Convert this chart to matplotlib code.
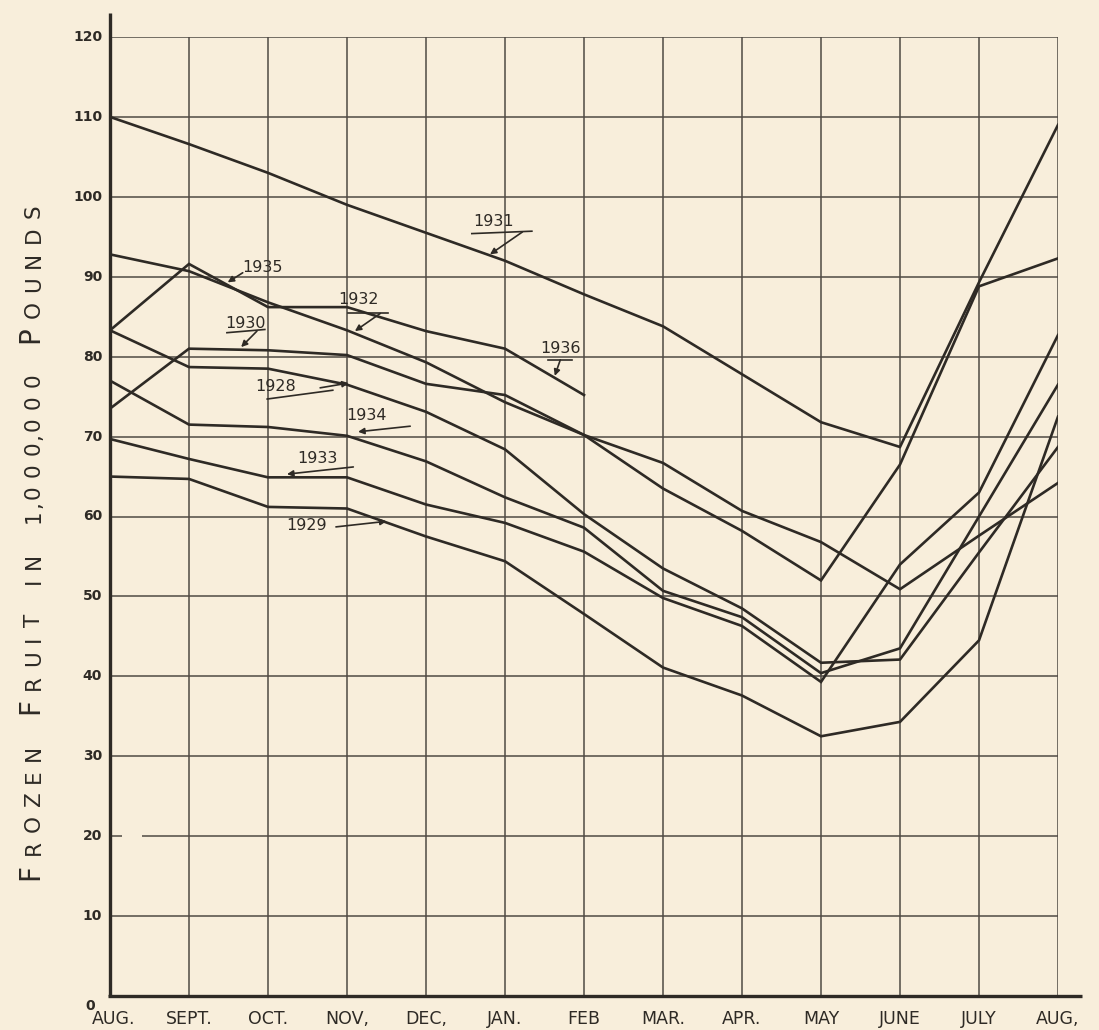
import matplotlib
matplotlib.use("Agg")
import matplotlib.pyplot as plt

PAPER = "#F8EEDB"
INK = "#2E2A25"
GRID_INK = "#4F4A43"

# month labels along the bottom, Aug to Aug
months = ["AUG.", "SEPT.", "OCT.", "NOV,", "DEC,", "JAN.", "FEB",
          "MAR.", "APR.", "MAY", "JUNE", "JULY", "AUG,"]
y_ticks = [0, 10, 20, 30, 40, 50, 60, 70, 80, 90, 100, 110, 120]

# frozen fruit holdings, millions of pounds
y1928 = [83.3, 78.7, 78.5, 76.5, 73.1, 68.4, 60.3, 53.5, 48.5, 41.7, 42.1, 55.5, 68.7]
y1929 = [65.0, 64.7, 61.2, 61.0, 57.5, 54.4, 47.8, 41.1, 37.6, 32.5, 34.3, 44.5, 72.5]
y1930 = [73.5, 81.0, 80.8, 80.2, 76.6, 75.2, 70.2, 63.5, 58.2, 52.0, 66.5, 88.8, 92.3]
y1931 = [110.0, 106.6, 103.0, 99.0, 95.5, 92.0, 87.8, 83.8, 77.8, 71.8, 68.7, 89.3, 109.0]
y1932 = [92.8, 90.7, 86.8, 83.3, 79.3, 74.3, 70.2, 66.7, 60.7, 56.8, 50.9, 57.6, 64.2]
y1933 = [69.7, 67.2, 64.9, 64.9, 61.5, 59.2, 55.6, 49.8, 46.3, 39.3, 54.0, 63.0, 82.7]
y1934 = [77.0, 71.5, 71.2, 70.1, 66.9, 62.4, 58.6, 50.7, 47.4, 40.4, 43.5, 60.0, 76.5]
y1936 = [83.3, 91.6, 86.2, 86.2, 83.2, 81.0, 75.2]

series = [y1928, y1929, y1930, y1931, y1932, y1933, y1934, y1936]

# year tags: text, text position, arrow tail, arrow tip, optional underline
tags = [
    ("1931", (4.86, 96.9), (5.22, 95.6), (4.81, 92.8), ((4.58, 95.4), (5.34, 95.7))),
    ("1935", (1.93, 91.1), (1.68, 90.5), (1.49, 89.3), None),
    ("1930", (1.71, 84.2), (1.86, 83.2), (1.66, 81.2), ((1.48, 83.0), (1.96, 83.4))),
    ("1928", (2.10, 76.3), (2.66, 76.1), (3.02, 76.7), ((1.99, 74.7), (2.82, 75.8))),
    ("1932", (3.15, 87.1), (3.42, 85.4), (3.10, 83.2), ((3.01, 85.5), (3.52, 85.5))),
    ("1934", (3.25, 72.6), (3.80, 71.3), (3.14, 70.6), None),
    ("1933", (2.63, 67.3), (3.08, 66.2), (2.24, 65.3), None),
    ("1929", (2.49, 58.9), (2.86, 58.7), (3.50, 59.4), None),
    ("1936", (5.70, 81.0), (5.70, 79.6), (5.63, 77.6), ((5.54, 79.6), (5.85, 79.6))),
]

W, H = 1099, 1030
fig = plt.figure(figsize=(W / 100, H / 100), dpi=100, facecolor=PAPER)
ax = fig.add_axes([110 / W, 34 / H, 948 / W, 959 / H], facecolor=PAPER)
ax.set_xlim(0, 12)
ax.set_ylim(0, 120)
ax.axis("off")

x = list(range(len(months)))

# grid
for v in y_ticks[1:]:
    if v == 20:
        # the scanned chart has a small gap in this rule
        ax.hlines(v, 0, 0.15, color=GRID_INK, lw=1.1)
        ax.hlines(v, 0.40, 12, color=GRID_INK, lw=1.1)
    else:
        ax.hlines(v, 0, 12, color=GRID_INK, lw=1.1)
for xi in x[1:]:
    ax.vlines(xi, 0, 120, color=GRID_INK, lw=1.1)

# heavy frame on left and bottom
ax.plot([0, 0], [0, 123.0], color=INK, lw=2.4, clip_on=False, solid_capstyle="butt")
ax.plot([-0.03, 12.3], [0, 0], color=INK, lw=2.4, clip_on=False, solid_capstyle="butt")

for ys in series:
    ax.plot(x[:len(ys)], ys, color=INK, lw=1.9, solid_joinstyle="miter")

# y tick labels
for v in y_ticks:
    if v:
        ax.text(-0.1, v, str(v), ha="right", va="center", fontsize=10,
                fontweight="bold", color=INK)
    else:
        ax.text(-0.19, -1.3, "0", ha="right", va="center", fontsize=10,
                fontweight="bold", color=INK)

# x tick labels
for xi, m in zip(x, months):
    ax.text(xi + (0.05 if xi == 0 else 0), -2.85, m, ha="center", va="center",
            fontsize=12.5, color=INK)

# year tags with hand-drawn style pointers
for label, tpos, tail, tip, under in tags:
    ax.text(tpos[0], tpos[1], label, ha="center", va="center", fontsize=11.5, color=INK)
    if under is not None:
        ax.plot([under[0][0], under[1][0]], [under[0][1], under[1][1]], color=INK, lw=1.2)
    ax.annotate("", xy=tip, xytext=tail,
                arrowprops=dict(arrowstyle="-|>", color=INK, lw=1.2, mutation_scale=9,
                                shrinkA=0, shrinkB=0))

# y axis title in small caps, built letter by letter
title_words = ["FROZEN", "FRUIT", "IN", "1,000,000", "POUNDS"]
BIG, SMALL = 20, 15.5
CHAR_GAP, COMMA_GAP, WORD_GAP = 6.2, 1.0, 21.6
prev = None
prev_ch = ""
for wi, word in enumerate(title_words):
    for ci, ch in enumerate(word):
        size = BIG if (ci == 0 and ch.isalpha() and word != "IN") else SMALL
        if prev is None:
            prev = fig.text(44 / W, (H - 880) / H, ch, rotation=90, ha="right",
                            va="bottom", fontsize=size, color=INK)
            prev_ch = ch
            continue
        if ci == 0:
            gap = WORD_GAP
        elif ch == "," or prev_ch == ",":
            gap = COMMA_GAP
        else:
            gap = CHAR_GAP
        prev = ax.annotate(ch, xy=(1, 1), xycoords=prev, xytext=(0, gap),
                           textcoords="offset points", rotation=90, ha="right",
                           va="bottom", fontsize=size, color=INK,
                           annotation_clip=False)
        prev_ch = ch

fig.savefig("out.png", dpi=100, facecolor=PAPER)
